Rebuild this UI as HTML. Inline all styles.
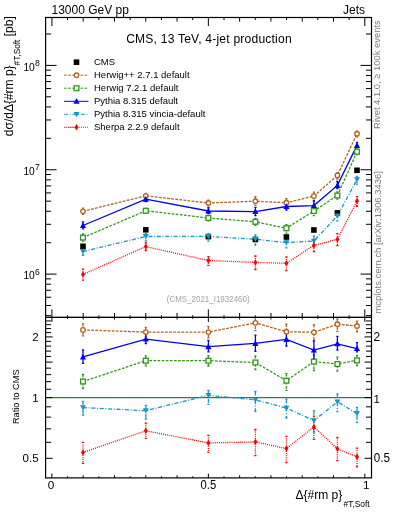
<!DOCTYPE html><html><head><meta charset="utf-8"><style>html,body{margin:0;padding:0;background:#fff;}svg{display:block;will-change:transform;}text{font-family:"Liberation Sans", sans-serif;}</style></head><body>
<svg width="393" height="512" viewBox="0 0 393 512">
<rect width="393" height="512" fill="#fff"/>
<defs><clipPath id="cm"><rect x="45.6" y="17.5" width="325.9" height="299.9"/></clipPath><clipPath id="cr"><rect x="45.6" y="317.4" width="325.9" height="160.5"/></clipPath></defs>
<text x="51.5" y="14" font-size="12">13000 GeV pp</text>
<text x="365" y="14" font-size="12" text-anchor="end">Jets</text>
<text x="208.9" y="42.7" font-size="12.1" text-anchor="middle" textLength="165.5" lengthAdjust="spacing">CMS, 13 TeV, 4-jet production</text>
<line x1="45.6" y1="397.6" x2="371.5" y2="397.6" stroke="#4d7040" stroke-width="1.3"/>
<path d="M45.6 315.63h5.5M371.5 315.63h-5.5M45.6 305.51h5.5M371.5 305.51h-5.5M45.6 297.25h5.5M371.5 297.25h-5.5M45.6 290.26h5.5M371.5 290.26h-5.5M45.6 284.21h5.5M371.5 284.21h-5.5M45.6 278.87h5.5M371.5 278.87h-5.5M45.6 274.1h11M371.5 274.1h-11M45.6 242.69h5.5M371.5 242.69h-5.5M45.6 224.31h5.5M371.5 224.31h-5.5M45.6 211.28h5.5M371.5 211.28h-5.5M45.6 201.16h5.5M371.5 201.16h-5.5M45.6 192.9h5.5M371.5 192.9h-5.5M45.6 185.91h5.5M371.5 185.91h-5.5M45.6 179.86h5.5M371.5 179.86h-5.5M45.6 174.52h5.5M371.5 174.52h-5.5M45.6 169.75h11M371.5 169.75h-11M45.6 138.34h5.5M371.5 138.34h-5.5M45.6 119.96h5.5M371.5 119.96h-5.5M45.6 106.93h5.5M371.5 106.93h-5.5M45.6 96.81h5.5M371.5 96.81h-5.5M45.6 88.55h5.5M371.5 88.55h-5.5M45.6 81.56h5.5M371.5 81.56h-5.5M45.6 75.51h5.5M371.5 75.51h-5.5M45.6 70.17h5.5M371.5 70.17h-5.5M45.6 65.4h11M371.5 65.4h-11M45.6 33.99h5.5M371.5 33.99h-5.5M45.6 458.29h7M371.5 458.29h-7M45.6 442.32h5.5M371.5 442.32h-5.5M45.6 428.83h5.5M371.5 428.83h-5.5M45.6 417.14h5.5M371.5 417.14h-5.5M45.6 406.82h5.5M371.5 406.82h-5.5M45.6 397.6h7M371.5 397.6h-7M45.6 389.26h5.5M371.5 389.26h-5.5M45.6 381.64h5.5M371.5 381.64h-5.5M45.6 374.63h5.5M371.5 374.63h-5.5M45.6 368.14h5.5M371.5 368.14h-5.5M45.6 362.1h7M371.5 362.1h-7M45.6 356.45h5.5M371.5 356.45h-5.5M45.6 351.14h5.5M371.5 351.14h-5.5M45.6 346.14h5.5M371.5 346.14h-5.5M45.6 341.4h5.5M371.5 341.4h-5.5M45.6 336.91h7M371.5 336.91h-7M45.6 332.64h5.5M371.5 332.64h-5.5M45.6 328.57h5.5M371.5 328.57h-5.5M45.6 324.68h5.5M371.5 324.68h-5.5M45.6 320.95h5.5M371.5 320.95h-5.5M51.9 17.5v8.5M51.9 317.4v-8M51.9 317.4v4.5M51.9 477.9v-4.3M67.55 17.5v2.6M67.55 317.4v-2.1M67.55 317.4v1.5M67.55 477.9v-1.6M83.19 17.5v4.1M83.19 317.4v-4.4M83.19 317.4v2.1M83.19 477.9v-2.6M98.84 17.5v2.6M98.84 317.4v-2.1M98.84 317.4v1.5M98.84 477.9v-1.6M114.48 17.5v4.1M114.48 317.4v-4.4M114.48 317.4v2.1M114.48 477.9v-2.6M130.12 17.5v2.6M130.12 317.4v-2.1M130.12 317.4v1.5M130.12 477.9v-1.6M145.77 17.5v4.1M145.77 317.4v-4.4M145.77 317.4v2.1M145.77 477.9v-2.6M161.42 17.5v2.6M161.42 317.4v-2.1M161.42 317.4v1.5M161.42 477.9v-1.6M177.06 17.5v4.1M177.06 317.4v-4.4M177.06 317.4v2.1M177.06 477.9v-2.6M192.71 17.5v2.6M192.71 317.4v-2.1M192.71 317.4v1.5M192.71 477.9v-1.6M208.35 17.5v8.5M208.35 317.4v-8M208.35 317.4v4.5M208.35 477.9v-4.3M224 17.5v2.6M224 317.4v-2.1M224 317.4v1.5M224 477.9v-1.6M239.64 17.5v4.1M239.64 317.4v-4.4M239.64 317.4v2.1M239.64 477.9v-2.6M255.29 17.5v2.6M255.29 317.4v-2.1M255.29 317.4v1.5M255.29 477.9v-1.6M270.93 17.5v4.1M270.93 317.4v-4.4M270.93 317.4v2.1M270.93 477.9v-2.6M286.57 17.5v2.6M286.57 317.4v-2.1M286.57 317.4v1.5M286.57 477.9v-1.6M302.22 17.5v4.1M302.22 317.4v-4.4M302.22 317.4v2.1M302.22 477.9v-2.6M317.87 17.5v2.6M317.87 317.4v-2.1M317.87 317.4v1.5M317.87 477.9v-1.6M333.51 17.5v4.1M333.51 317.4v-4.4M333.51 317.4v2.1M333.51 477.9v-2.6M349.16 17.5v2.6M349.16 317.4v-2.1M349.16 317.4v1.5M349.16 477.9v-1.6M364.8 17.5v8.5M364.8 317.4v-8M364.8 317.4v4.5M364.8 477.9v-4.3" stroke="#000" stroke-width="1" fill="none"/>
<polyline points="83,211.3 145.8,195.8 208.4,203 255.4,201.2 286.4,202.7 313.9,196.1 337.4,175.4 357,133.7" fill="none" stroke="#b5651d" stroke-width="1.3" stroke-dasharray="2.8,1.3" clip-path="url(#cm)"/>
<polyline points="83,237.6 145.8,210.8 208.4,218 255.4,221.8 286.4,228.2 313.9,211 337.4,195.5 357,151.8" fill="none" stroke="#349a1c" stroke-width="1.3" stroke-dasharray="2.7,1.4" clip-path="url(#cm)"/>
<polyline points="83,225.5 145.8,199.2 208.4,211 255.4,211.6 286.4,206.5 313.9,205.6 337.4,185.4 357,145.4" fill="none" stroke="#0000ff" stroke-width="1.3" clip-path="url(#cm)"/>
<polyline points="83,251.5 145.8,236.5 208.4,236.4 255.4,239.2 286.4,242.7 313.9,241.1 337.4,215.8 357,179.6" fill="none" stroke="#1699c4" stroke-width="1.3" stroke-dasharray="4,1.7,1,1.7" clip-path="url(#cm)"/>
<polyline points="83,274.4 145.8,246.6 208.4,260.5 255.4,262.4 286.4,263.3 313.9,245.3 337.4,239.4 357,201" fill="none" stroke="#ff0000" stroke-width="1.3" stroke-dasharray="1,1.1" clip-path="url(#cm)"/>
<g clip-path="url(#cm)" stroke="#b5651d" stroke-width="1.3" fill="none"><line x1="83" y1="208.14" x2="83" y2="214.41" stroke-dasharray="2.8,1.3"/><line x1="81.9" y1="208.14" x2="84.1" y2="208.14"/><line x1="81.9" y1="214.41" x2="84.1" y2="214.41"/></g>
<g clip-path="url(#cm)" stroke="#b5651d" stroke-width="1.3" fill="none"><line x1="145.8" y1="193.37" x2="145.8" y2="198.08" stroke-dasharray="2.8,1.3"/><line x1="144.7" y1="193.37" x2="146.9" y2="193.37"/><line x1="144.7" y1="198.08" x2="146.9" y2="198.08"/></g>
<g clip-path="url(#cm)" stroke="#b5651d" stroke-width="1.3" fill="none"><line x1="208.4" y1="200.05" x2="208.4" y2="205.95" stroke-dasharray="2.8,1.3"/><line x1="207.3" y1="200.05" x2="209.5" y2="200.05"/><line x1="207.3" y1="205.95" x2="209.5" y2="205.95"/></g>
<g clip-path="url(#cm)" stroke="#b5651d" stroke-width="1.3" fill="none"><line x1="255.4" y1="196.65" x2="255.4" y2="205.29" stroke-dasharray="2.8,1.3"/><line x1="254.3" y1="196.65" x2="256.5" y2="196.65"/><line x1="254.3" y1="205.29" x2="256.5" y2="205.29"/></g>
<g clip-path="url(#cm)" stroke="#b5651d" stroke-width="1.3" fill="none"><line x1="286.4" y1="198.77" x2="286.4" y2="206.22" stroke-dasharray="2.8,1.3"/><line x1="285.3" y1="198.77" x2="287.5" y2="198.77"/><line x1="285.3" y1="206.22" x2="287.5" y2="206.22"/></g>
<g clip-path="url(#cm)" stroke="#b5651d" stroke-width="1.3" fill="none"><line x1="313.9" y1="192.22" x2="313.9" y2="200.24" stroke-dasharray="2.8,1.3"/><line x1="312.8" y1="192.22" x2="315" y2="192.22"/><line x1="312.8" y1="200.24" x2="315" y2="200.24"/></g>
<g clip-path="url(#cm)" stroke="#b5651d" stroke-width="1.3" fill="none"><line x1="337.4" y1="172.66" x2="337.4" y2="179.13" stroke-dasharray="2.8,1.3"/><line x1="336.3" y1="172.66" x2="338.5" y2="172.66"/><line x1="336.3" y1="179.13" x2="338.5" y2="179.13"/></g>
<g clip-path="url(#cm)" stroke="#b5651d" stroke-width="1.3" fill="none"><line x1="357" y1="131.22" x2="357" y2="136.75" stroke-dasharray="2.8,1.3"/><line x1="355.9" y1="131.22" x2="358.1" y2="131.22"/><line x1="355.9" y1="136.75" x2="358.1" y2="136.75"/></g>
<g clip-path="url(#cm)" stroke="#349a1c" stroke-width="1.3" fill="none"><line x1="83" y1="233.98" x2="83" y2="241.22" stroke-dasharray="2.7,1.4"/><line x1="81.9" y1="233.98" x2="84.1" y2="233.98"/><line x1="81.9" y1="241.22" x2="84.1" y2="241.22"/></g>
<g clip-path="url(#cm)" stroke="#349a1c" stroke-width="1.3" fill="none"><line x1="145.8" y1="208.32" x2="145.8" y2="213.44" stroke-dasharray="2.7,1.4"/><line x1="144.7" y1="208.32" x2="146.9" y2="208.32"/><line x1="144.7" y1="213.44" x2="146.9" y2="213.44"/></g>
<g clip-path="url(#cm)" stroke="#349a1c" stroke-width="1.3" fill="none"><line x1="208.4" y1="215.36" x2="208.4" y2="220.74" stroke-dasharray="2.7,1.4"/><line x1="207.3" y1="215.36" x2="209.5" y2="215.36"/><line x1="207.3" y1="220.74" x2="209.5" y2="220.74"/></g>
<g clip-path="url(#cm)" stroke="#349a1c" stroke-width="1.3" fill="none"><line x1="255.4" y1="218.38" x2="255.4" y2="225.42" stroke-dasharray="2.7,1.4"/><line x1="254.3" y1="218.38" x2="256.5" y2="218.38"/><line x1="254.3" y1="225.42" x2="256.5" y2="225.42"/></g>
<g clip-path="url(#cm)" stroke="#349a1c" stroke-width="1.3" fill="none"><line x1="286.4" y1="224.58" x2="286.4" y2="233.17" stroke-dasharray="2.7,1.4"/><line x1="285.3" y1="224.58" x2="287.5" y2="224.58"/><line x1="285.3" y1="233.17" x2="287.5" y2="233.17"/></g>
<g clip-path="url(#cm)" stroke="#349a1c" stroke-width="1.3" fill="none"><line x1="313.9" y1="207.32" x2="313.9" y2="215.61" stroke-dasharray="2.7,1.4"/><line x1="312.8" y1="207.32" x2="315" y2="207.32"/><line x1="312.8" y1="215.61" x2="315" y2="215.61"/></g>
<g clip-path="url(#cm)" stroke="#349a1c" stroke-width="1.3" fill="none"><line x1="337.4" y1="191.98" x2="337.4" y2="199.18" stroke-dasharray="2.7,1.4"/><line x1="336.3" y1="191.98" x2="338.5" y2="191.98"/><line x1="336.3" y1="199.18" x2="338.5" y2="199.18"/></g>
<g clip-path="url(#cm)" stroke="#349a1c" stroke-width="1.3" fill="none"><line x1="357" y1="149.21" x2="357" y2="154.54" stroke-dasharray="2.7,1.4"/><line x1="355.9" y1="149.21" x2="358.1" y2="149.21"/><line x1="355.9" y1="154.54" x2="358.1" y2="154.54"/></g>
<g clip-path="url(#cm)" stroke="#0000ff" stroke-width="1.3" fill="none"><line x1="83" y1="221.88" x2="83" y2="228.81"/><line x1="81.9" y1="221.88" x2="84.1" y2="221.88"/><line x1="81.9" y1="228.81" x2="84.1" y2="228.81"/></g>
<g clip-path="url(#cm)" stroke="#0000ff" stroke-width="1.3" fill="none"><line x1="145.8" y1="196.25" x2="145.8" y2="201.48"/><line x1="144.7" y1="196.25" x2="146.9" y2="196.25"/><line x1="144.7" y1="201.48" x2="146.9" y2="201.48"/></g>
<g clip-path="url(#cm)" stroke="#0000ff" stroke-width="1.3" fill="none"><line x1="208.4" y1="207.74" x2="208.4" y2="213.64"/><line x1="207.3" y1="207.74" x2="209.5" y2="207.74"/><line x1="207.3" y1="213.64" x2="209.5" y2="213.64"/></g>
<g clip-path="url(#cm)" stroke="#0000ff" stroke-width="1.3" fill="none"><line x1="255.4" y1="207.36" x2="255.4" y2="215.69"/><line x1="254.3" y1="207.36" x2="256.5" y2="207.36"/><line x1="254.3" y1="215.69" x2="256.5" y2="215.69"/></g>
<g clip-path="url(#cm)" stroke="#0000ff" stroke-width="1.3" fill="none"><line x1="286.4" y1="202.36" x2="286.4" y2="210.02"/><line x1="285.3" y1="202.36" x2="287.5" y2="202.36"/><line x1="285.3" y1="210.02" x2="287.5" y2="210.02"/></g>
<g clip-path="url(#cm)" stroke="#0000ff" stroke-width="1.3" fill="none"><line x1="313.9" y1="200.99" x2="313.9" y2="210"/><line x1="312.8" y1="200.99" x2="315" y2="200.99"/><line x1="312.8" y1="210" x2="315" y2="210"/></g>
<g clip-path="url(#cm)" stroke="#0000ff" stroke-width="1.3" fill="none"><line x1="337.4" y1="181.52" x2="337.4" y2="188.66"/><line x1="336.3" y1="181.52" x2="338.5" y2="181.52"/><line x1="336.3" y1="188.66" x2="338.5" y2="188.66"/></g>
<g clip-path="url(#cm)" stroke="#0000ff" stroke-width="1.3" fill="none"><line x1="357" y1="142.29" x2="357" y2="147.06"/><line x1="355.9" y1="142.29" x2="358.1" y2="142.29"/><line x1="355.9" y1="147.06" x2="358.1" y2="147.06"/></g>
<g clip-path="url(#cm)" stroke="#1699c4" stroke-width="1.3" fill="none"><line x1="83" y1="248.24" x2="83" y2="255.33" stroke-dasharray="4,1.7,1,1.7"/><line x1="81.9" y1="248.24" x2="84.1" y2="248.24"/><line x1="81.9" y1="255.33" x2="84.1" y2="255.33"/></g>
<g clip-path="url(#cm)" stroke="#1699c4" stroke-width="1.3" fill="none"><line x1="145.8" y1="233.76" x2="145.8" y2="240.8" stroke-dasharray="4,1.7,1,1.7"/><line x1="144.7" y1="233.76" x2="146.9" y2="233.76"/><line x1="144.7" y1="240.8" x2="146.9" y2="240.8"/></g>
<g clip-path="url(#cm)" stroke="#1699c4" stroke-width="1.3" fill="none"><line x1="208.4" y1="233.81" x2="208.4" y2="241.06" stroke-dasharray="4,1.7,1,1.7"/><line x1="207.3" y1="233.81" x2="209.5" y2="233.81"/><line x1="207.3" y1="241.06" x2="209.5" y2="241.06"/></g>
<g clip-path="url(#cm)" stroke="#1699c4" stroke-width="1.3" fill="none"><line x1="255.4" y1="234.9" x2="255.4" y2="245.15" stroke-dasharray="4,1.7,1,1.7"/><line x1="254.3" y1="234.9" x2="256.5" y2="234.9"/><line x1="254.3" y1="245.15" x2="256.5" y2="245.15"/></g>
<g clip-path="url(#cm)" stroke="#1699c4" stroke-width="1.3" fill="none"><line x1="286.4" y1="238.09" x2="286.4" y2="247.82" stroke-dasharray="4,1.7,1,1.7"/><line x1="285.3" y1="238.09" x2="287.5" y2="238.09"/><line x1="285.3" y1="247.82" x2="287.5" y2="247.82"/></g>
<g clip-path="url(#cm)" stroke="#1699c4" stroke-width="1.3" fill="none"><line x1="313.9" y1="236.03" x2="313.9" y2="247.1" stroke-dasharray="4,1.7,1,1.7"/><line x1="312.8" y1="236.03" x2="315" y2="236.03"/><line x1="312.8" y1="247.1" x2="315" y2="247.1"/></g>
<g clip-path="url(#cm)" stroke="#1699c4" stroke-width="1.3" fill="none"><line x1="337.4" y1="211.66" x2="337.4" y2="220.87" stroke-dasharray="4,1.7,1,1.7"/><line x1="336.3" y1="211.66" x2="338.5" y2="211.66"/><line x1="336.3" y1="220.87" x2="338.5" y2="220.87"/></g>
<g clip-path="url(#cm)" stroke="#1699c4" stroke-width="1.3" fill="none"><line x1="357" y1="176.39" x2="357" y2="184.21" stroke-dasharray="4,1.7,1,1.7"/><line x1="355.9" y1="176.39" x2="358.1" y2="176.39"/><line x1="355.9" y1="184.21" x2="358.1" y2="184.21"/></g>
<g clip-path="url(#cm)" stroke="#ff0000" stroke-width="1.3" fill="none"><line x1="83" y1="269.17" x2="83" y2="280.04" stroke-dasharray="1,1.1"/><line x1="81.9" y1="269.17" x2="84.1" y2="269.17"/><line x1="81.9" y1="280.04" x2="84.1" y2="280.04"/></g>
<g clip-path="url(#cm)" stroke="#ff0000" stroke-width="1.3" fill="none"><line x1="145.8" y1="242.67" x2="145.8" y2="250.53" stroke-dasharray="1,1.1"/><line x1="144.7" y1="242.67" x2="146.9" y2="242.67"/><line x1="144.7" y1="250.53" x2="146.9" y2="250.53"/></g>
<g clip-path="url(#cm)" stroke="#ff0000" stroke-width="1.3" fill="none"><line x1="208.4" y1="256.57" x2="208.4" y2="265.42" stroke-dasharray="1,1.1"/><line x1="207.3" y1="256.57" x2="209.5" y2="256.57"/><line x1="207.3" y1="265.42" x2="209.5" y2="265.42"/></g>
<g clip-path="url(#cm)" stroke="#ff0000" stroke-width="1.3" fill="none"><line x1="255.4" y1="255.98" x2="255.4" y2="269.49" stroke-dasharray="1,1.1"/><line x1="254.3" y1="255.98" x2="256.5" y2="255.98"/><line x1="254.3" y1="269.49" x2="256.5" y2="269.49"/></g>
<g clip-path="url(#cm)" stroke="#ff0000" stroke-width="1.3" fill="none"><line x1="286.4" y1="256.93" x2="286.4" y2="270.55" stroke-dasharray="1,1.1"/><line x1="285.3" y1="256.93" x2="287.5" y2="256.93"/><line x1="285.3" y1="270.55" x2="287.5" y2="270.55"/></g>
<g clip-path="url(#cm)" stroke="#ff0000" stroke-width="1.3" fill="none"><line x1="313.9" y1="239.76" x2="313.9" y2="251.72" stroke-dasharray="1,1.1"/><line x1="312.8" y1="239.76" x2="315" y2="239.76"/><line x1="312.8" y1="251.72" x2="315" y2="251.72"/></g>
<g clip-path="url(#cm)" stroke="#ff0000" stroke-width="1.3" fill="none"><line x1="337.4" y1="233.55" x2="337.4" y2="245.56" stroke-dasharray="1,1.1"/><line x1="336.3" y1="233.55" x2="338.5" y2="233.55"/><line x1="336.3" y1="245.56" x2="338.5" y2="245.56"/></g>
<g clip-path="url(#cm)" stroke="#ff0000" stroke-width="1.3" fill="none"><line x1="357" y1="196.55" x2="357" y2="206.23" stroke-dasharray="1,1.1"/><line x1="355.9" y1="196.55" x2="358.1" y2="196.55"/><line x1="355.9" y1="206.23" x2="358.1" y2="206.23"/></g>
<rect x="80.2" y="243.5" width="5.6" height="5.6" fill="#000"/>
<rect x="143" y="227" width="5.6" height="5.6" fill="#000"/>
<rect x="205.6" y="233.8" width="5.6" height="5.6" fill="#000"/>
<rect x="252.6" y="236.7" width="5.6" height="5.6" fill="#000"/>
<rect x="283.6" y="234.2" width="5.6" height="5.6" fill="#000"/>
<rect x="311.1" y="227.2" width="5.6" height="5.6" fill="#000"/>
<rect x="334.6" y="210.1" width="5.6" height="5.6" fill="#000"/>
<rect x="354.2" y="167.5" width="5.6" height="5.6" fill="#000"/>
<circle cx="83" cy="211.3" r="2.25" fill="#fff" stroke="#b5651d" stroke-width="1.35"/>
<circle cx="145.8" cy="195.8" r="2.25" fill="#fff" stroke="#b5651d" stroke-width="1.35"/>
<circle cx="208.4" cy="203" r="2.25" fill="#fff" stroke="#b5651d" stroke-width="1.35"/>
<circle cx="255.4" cy="201.2" r="2.25" fill="#fff" stroke="#b5651d" stroke-width="1.35"/>
<circle cx="286.4" cy="202.7" r="2.25" fill="#fff" stroke="#b5651d" stroke-width="1.35"/>
<circle cx="313.9" cy="196.1" r="2.25" fill="#fff" stroke="#b5651d" stroke-width="1.35"/>
<circle cx="337.4" cy="175.4" r="2.25" fill="#fff" stroke="#b5651d" stroke-width="1.35"/>
<circle cx="357" cy="133.7" r="2.25" fill="#fff" stroke="#b5651d" stroke-width="1.35"/>
<rect x="80.6" y="235.2" width="4.8" height="4.8" fill="#fff" stroke="#349a1c" stroke-width="1.35"/>
<rect x="143.4" y="208.4" width="4.8" height="4.8" fill="#fff" stroke="#349a1c" stroke-width="1.35"/>
<rect x="206" y="215.6" width="4.8" height="4.8" fill="#fff" stroke="#349a1c" stroke-width="1.35"/>
<rect x="253" y="219.4" width="4.8" height="4.8" fill="#fff" stroke="#349a1c" stroke-width="1.35"/>
<rect x="284" y="225.8" width="4.8" height="4.8" fill="#fff" stroke="#349a1c" stroke-width="1.35"/>
<rect x="311.5" y="208.6" width="4.8" height="4.8" fill="#fff" stroke="#349a1c" stroke-width="1.35"/>
<rect x="335" y="193.1" width="4.8" height="4.8" fill="#fff" stroke="#349a1c" stroke-width="1.35"/>
<rect x="354.6" y="149.4" width="4.8" height="4.8" fill="#fff" stroke="#349a1c" stroke-width="1.35"/>
<path d="M83 222.3 L86.1 228 L79.9 228Z" fill="#0000ff"/>
<path d="M145.8 196 L148.9 201.7 L142.7 201.7Z" fill="#0000ff"/>
<path d="M208.4 207.8 L211.5 213.5 L205.3 213.5Z" fill="#0000ff"/>
<path d="M255.4 208.4 L258.5 214.1 L252.3 214.1Z" fill="#0000ff"/>
<path d="M286.4 203.3 L289.5 209 L283.3 209Z" fill="#0000ff"/>
<path d="M313.9 202.4 L317 208.1 L310.8 208.1Z" fill="#0000ff"/>
<path d="M337.4 182.2 L340.5 187.9 L334.3 187.9Z" fill="#0000ff"/>
<path d="M357 142.2 L360.1 147.9 L353.9 147.9Z" fill="#0000ff"/>
<path d="M83 254.4 L86 249.1 L80 249.1Z" fill="#1699c4"/>
<path d="M145.8 239.4 L148.8 234.1 L142.8 234.1Z" fill="#1699c4"/>
<path d="M208.4 239.3 L211.4 234 L205.4 234Z" fill="#1699c4"/>
<path d="M255.4 242.1 L258.4 236.8 L252.4 236.8Z" fill="#1699c4"/>
<path d="M286.4 245.6 L289.4 240.3 L283.4 240.3Z" fill="#1699c4"/>
<path d="M313.9 244 L316.9 238.7 L310.9 238.7Z" fill="#1699c4"/>
<path d="M337.4 218.7 L340.4 213.4 L334.4 213.4Z" fill="#1699c4"/>
<path d="M357 182.5 L360 177.2 L354 177.2Z" fill="#1699c4"/>
<path d="M83 271.2 L85 274.4 L83 277.6 L81 274.4Z" fill="#ff0000"/>
<path d="M145.8 243.4 L147.8 246.6 L145.8 249.8 L143.8 246.6Z" fill="#ff0000"/>
<path d="M208.4 257.3 L210.4 260.5 L208.4 263.7 L206.4 260.5Z" fill="#ff0000"/>
<path d="M255.4 259.2 L257.4 262.4 L255.4 265.6 L253.4 262.4Z" fill="#ff0000"/>
<path d="M286.4 260.1 L288.4 263.3 L286.4 266.5 L284.4 263.3Z" fill="#ff0000"/>
<path d="M313.9 242.1 L315.9 245.3 L313.9 248.5 L311.9 245.3Z" fill="#ff0000"/>
<path d="M337.4 236.2 L339.4 239.4 L337.4 242.6 L335.4 239.4Z" fill="#ff0000"/>
<path d="M357 197.8 L359 201 L357 204.2 L355 201Z" fill="#ff0000"/>
<polyline points="83,329.9 145.8,332.1 208.4,332.1 255.4,322.8 286.4,331.7 313.9,332.3 337.4,324.2 357,326" fill="none" stroke="#b5651d" stroke-width="1.3" stroke-dasharray="2.8,1.3" clip-path="url(#cr)"/>
<polyline points="83,381.5 145.8,360.7 208.4,360.7 255.4,362.5 286.4,380.7 313.9,361.6 337.4,364 357,360.4" fill="none" stroke="#349a1c" stroke-width="1.3" stroke-dasharray="2.7,1.4" clip-path="url(#cr)"/>
<polyline points="83,356.9 145.8,339.1 208.4,346.7 255.4,343.4 286.4,339.4 313.9,350.1 337.4,343.8 357,348.6" fill="none" stroke="#0000ff" stroke-width="1.3" clip-path="url(#cr)"/>
<polyline points="83,407.6 145.8,410.7 208.4,395.4 255.4,399.8 286.4,408.1 313.9,420.6 337.4,401.9 357,413.5" fill="none" stroke="#1699c4" stroke-width="1.3" stroke-dasharray="4,1.7,1,1.7" clip-path="url(#cr)"/>
<polyline points="83,452.4 145.8,430.8 208.4,442.9 255.4,441.9 286.4,448.6 313.9,426.9 337.4,448.8 357,456.8" fill="none" stroke="#ff0000" stroke-width="1.3" stroke-dasharray="1,1.1" clip-path="url(#cr)"/>
<g clip-path="url(#cr)" stroke="#b5651d" stroke-width="1.3" fill="none"><line x1="83" y1="323.8" x2="83" y2="335.9" stroke-dasharray="2.8,1.3"/><line x1="81.9" y1="323.8" x2="84.1" y2="323.8"/><line x1="81.9" y1="335.9" x2="84.1" y2="335.9"/></g>
<g clip-path="url(#cr)" stroke="#b5651d" stroke-width="1.3" fill="none"><line x1="145.8" y1="327.4" x2="145.8" y2="336.5" stroke-dasharray="2.8,1.3"/><line x1="144.7" y1="327.4" x2="146.9" y2="327.4"/><line x1="144.7" y1="336.5" x2="146.9" y2="336.5"/></g>
<g clip-path="url(#cr)" stroke="#b5651d" stroke-width="1.3" fill="none"><line x1="208.4" y1="326.4" x2="208.4" y2="337.8" stroke-dasharray="2.8,1.3"/><line x1="207.3" y1="326.4" x2="209.5" y2="326.4"/><line x1="207.3" y1="337.8" x2="209.5" y2="337.8"/></g>
<g clip-path="url(#cr)" stroke="#b5651d" stroke-width="1.3" fill="none"><line x1="255.4" y1="314" x2="255.4" y2="330.7" stroke-dasharray="2.8,1.3"/><line x1="254.3" y1="314" x2="256.5" y2="314"/><line x1="254.3" y1="330.7" x2="256.5" y2="330.7"/></g>
<g clip-path="url(#cr)" stroke="#b5651d" stroke-width="1.3" fill="none"><line x1="286.4" y1="324.1" x2="286.4" y2="338.5" stroke-dasharray="2.8,1.3"/><line x1="285.3" y1="324.1" x2="287.5" y2="324.1"/><line x1="285.3" y1="338.5" x2="287.5" y2="338.5"/></g>
<g clip-path="url(#cr)" stroke="#b5651d" stroke-width="1.3" fill="none"><line x1="313.9" y1="324.8" x2="313.9" y2="340.3" stroke-dasharray="2.8,1.3"/><line x1="312.8" y1="324.8" x2="315" y2="324.8"/><line x1="312.8" y1="340.3" x2="315" y2="340.3"/></g>
<g clip-path="url(#cr)" stroke="#b5651d" stroke-width="1.3" fill="none"><line x1="337.4" y1="318.9" x2="337.4" y2="331.4" stroke-dasharray="2.8,1.3"/><line x1="336.3" y1="318.9" x2="338.5" y2="318.9"/><line x1="336.3" y1="331.4" x2="338.5" y2="331.4"/></g>
<g clip-path="url(#cr)" stroke="#b5651d" stroke-width="1.3" fill="none"><line x1="357" y1="321.2" x2="357" y2="331.9" stroke-dasharray="2.8,1.3"/><line x1="355.9" y1="321.2" x2="358.1" y2="321.2"/><line x1="355.9" y1="331.9" x2="358.1" y2="331.9"/></g>
<g clip-path="url(#cr)" stroke="#349a1c" stroke-width="1.3" fill="none"><line x1="83" y1="374.5" x2="83" y2="388.5" stroke-dasharray="2.7,1.4"/><line x1="81.9" y1="374.5" x2="84.1" y2="374.5"/><line x1="81.9" y1="388.5" x2="84.1" y2="388.5"/></g>
<g clip-path="url(#cr)" stroke="#349a1c" stroke-width="1.3" fill="none"><line x1="145.8" y1="355.9" x2="145.8" y2="365.8" stroke-dasharray="2.7,1.4"/><line x1="144.7" y1="355.9" x2="146.9" y2="355.9"/><line x1="144.7" y1="365.8" x2="146.9" y2="365.8"/></g>
<g clip-path="url(#cr)" stroke="#349a1c" stroke-width="1.3" fill="none"><line x1="208.4" y1="355.6" x2="208.4" y2="366" stroke-dasharray="2.7,1.4"/><line x1="207.3" y1="355.6" x2="209.5" y2="355.6"/><line x1="207.3" y1="366" x2="209.5" y2="366"/></g>
<g clip-path="url(#cr)" stroke="#349a1c" stroke-width="1.3" fill="none"><line x1="255.4" y1="355.9" x2="255.4" y2="369.5" stroke-dasharray="2.7,1.4"/><line x1="254.3" y1="355.9" x2="256.5" y2="355.9"/><line x1="254.3" y1="369.5" x2="256.5" y2="369.5"/></g>
<g clip-path="url(#cr)" stroke="#349a1c" stroke-width="1.3" fill="none"><line x1="286.4" y1="373.7" x2="286.4" y2="390.3" stroke-dasharray="2.7,1.4"/><line x1="285.3" y1="373.7" x2="287.5" y2="373.7"/><line x1="285.3" y1="390.3" x2="287.5" y2="390.3"/></g>
<g clip-path="url(#cr)" stroke="#349a1c" stroke-width="1.3" fill="none"><line x1="313.9" y1="354.5" x2="313.9" y2="370.5" stroke-dasharray="2.7,1.4"/><line x1="312.8" y1="354.5" x2="315" y2="354.5"/><line x1="312.8" y1="370.5" x2="315" y2="370.5"/></g>
<g clip-path="url(#cr)" stroke="#349a1c" stroke-width="1.3" fill="none"><line x1="337.4" y1="357.2" x2="337.4" y2="371.1" stroke-dasharray="2.7,1.4"/><line x1="336.3" y1="357.2" x2="338.5" y2="357.2"/><line x1="336.3" y1="371.1" x2="338.5" y2="371.1"/></g>
<g clip-path="url(#cr)" stroke="#349a1c" stroke-width="1.3" fill="none"><line x1="357" y1="355.4" x2="357" y2="365.7" stroke-dasharray="2.7,1.4"/><line x1="355.9" y1="355.4" x2="358.1" y2="355.4"/><line x1="355.9" y1="365.7" x2="358.1" y2="365.7"/></g>
<g clip-path="url(#cr)" stroke="#0000ff" stroke-width="1.3" fill="none"><line x1="83" y1="349.9" x2="83" y2="363.3"/><line x1="81.9" y1="349.9" x2="84.1" y2="349.9"/><line x1="81.9" y1="363.3" x2="84.1" y2="363.3"/></g>
<g clip-path="url(#cr)" stroke="#0000ff" stroke-width="1.3" fill="none"><line x1="145.8" y1="333.4" x2="145.8" y2="343.5"/><line x1="144.7" y1="333.4" x2="146.9" y2="333.4"/><line x1="144.7" y1="343.5" x2="146.9" y2="343.5"/></g>
<g clip-path="url(#cr)" stroke="#0000ff" stroke-width="1.3" fill="none"><line x1="208.4" y1="340.4" x2="208.4" y2="351.8"/><line x1="207.3" y1="340.4" x2="209.5" y2="340.4"/><line x1="207.3" y1="351.8" x2="209.5" y2="351.8"/></g>
<g clip-path="url(#cr)" stroke="#0000ff" stroke-width="1.3" fill="none"><line x1="255.4" y1="335.2" x2="255.4" y2="351.3"/><line x1="254.3" y1="335.2" x2="256.5" y2="335.2"/><line x1="254.3" y1="351.3" x2="256.5" y2="351.3"/></g>
<g clip-path="url(#cr)" stroke="#0000ff" stroke-width="1.3" fill="none"><line x1="286.4" y1="331.4" x2="286.4" y2="346.2"/><line x1="285.3" y1="331.4" x2="287.5" y2="331.4"/><line x1="285.3" y1="346.2" x2="287.5" y2="346.2"/></g>
<g clip-path="url(#cr)" stroke="#0000ff" stroke-width="1.3" fill="none"><line x1="313.9" y1="341.2" x2="313.9" y2="358.6"/><line x1="312.8" y1="341.2" x2="315" y2="341.2"/><line x1="312.8" y1="358.6" x2="315" y2="358.6"/></g>
<g clip-path="url(#cr)" stroke="#0000ff" stroke-width="1.3" fill="none"><line x1="337.4" y1="336.3" x2="337.4" y2="350.1"/><line x1="336.3" y1="336.3" x2="338.5" y2="336.3"/><line x1="336.3" y1="350.1" x2="338.5" y2="350.1"/></g>
<g clip-path="url(#cr)" stroke="#0000ff" stroke-width="1.3" fill="none"><line x1="357" y1="342.6" x2="357" y2="351.8"/><line x1="355.9" y1="342.6" x2="358.1" y2="342.6"/><line x1="355.9" y1="351.8" x2="358.1" y2="351.8"/></g>
<g clip-path="url(#cr)" stroke="#1699c4" stroke-width="1.3" fill="none"><line x1="83" y1="401.3" x2="83" y2="415" stroke-dasharray="4,1.7,1,1.7"/><line x1="81.9" y1="401.3" x2="84.1" y2="401.3"/><line x1="81.9" y1="415" x2="84.1" y2="415"/></g>
<g clip-path="url(#cr)" stroke="#1699c4" stroke-width="1.3" fill="none"><line x1="145.8" y1="405.4" x2="145.8" y2="419" stroke-dasharray="4,1.7,1,1.7"/><line x1="144.7" y1="405.4" x2="146.9" y2="405.4"/><line x1="144.7" y1="419" x2="146.9" y2="419"/></g>
<g clip-path="url(#cr)" stroke="#1699c4" stroke-width="1.3" fill="none"><line x1="208.4" y1="390.4" x2="208.4" y2="404.4" stroke-dasharray="4,1.7,1,1.7"/><line x1="207.3" y1="390.4" x2="209.5" y2="390.4"/><line x1="207.3" y1="404.4" x2="209.5" y2="404.4"/></g>
<g clip-path="url(#cr)" stroke="#1699c4" stroke-width="1.3" fill="none"><line x1="255.4" y1="391.5" x2="255.4" y2="411.3" stroke-dasharray="4,1.7,1,1.7"/><line x1="254.3" y1="391.5" x2="256.5" y2="391.5"/><line x1="254.3" y1="411.3" x2="256.5" y2="411.3"/></g>
<g clip-path="url(#cr)" stroke="#1699c4" stroke-width="1.3" fill="none"><line x1="286.4" y1="399.2" x2="286.4" y2="418" stroke-dasharray="4,1.7,1,1.7"/><line x1="285.3" y1="399.2" x2="287.5" y2="399.2"/><line x1="285.3" y1="418" x2="287.5" y2="418"/></g>
<g clip-path="url(#cr)" stroke="#1699c4" stroke-width="1.3" fill="none"><line x1="313.9" y1="410.8" x2="313.9" y2="432.2" stroke-dasharray="4,1.7,1,1.7"/><line x1="312.8" y1="410.8" x2="315" y2="410.8"/><line x1="312.8" y1="432.2" x2="315" y2="432.2"/></g>
<g clip-path="url(#cr)" stroke="#1699c4" stroke-width="1.3" fill="none"><line x1="337.4" y1="393.9" x2="337.4" y2="411.7" stroke-dasharray="4,1.7,1,1.7"/><line x1="336.3" y1="393.9" x2="338.5" y2="393.9"/><line x1="336.3" y1="411.7" x2="338.5" y2="411.7"/></g>
<g clip-path="url(#cr)" stroke="#1699c4" stroke-width="1.3" fill="none"><line x1="357" y1="407.3" x2="357" y2="422.4" stroke-dasharray="4,1.7,1,1.7"/><line x1="355.9" y1="407.3" x2="358.1" y2="407.3"/><line x1="355.9" y1="422.4" x2="358.1" y2="422.4"/></g>
<g clip-path="url(#cr)" stroke="#ff0000" stroke-width="1.3" fill="none"><line x1="83" y1="442.3" x2="83" y2="463.3" stroke-dasharray="1,1.1"/><line x1="81.9" y1="442.3" x2="84.1" y2="442.3"/><line x1="81.9" y1="463.3" x2="84.1" y2="463.3"/></g>
<g clip-path="url(#cr)" stroke="#ff0000" stroke-width="1.3" fill="none"><line x1="145.8" y1="423.2" x2="145.8" y2="438.4" stroke-dasharray="1,1.1"/><line x1="144.7" y1="423.2" x2="146.9" y2="423.2"/><line x1="144.7" y1="438.4" x2="146.9" y2="438.4"/></g>
<g clip-path="url(#cr)" stroke="#ff0000" stroke-width="1.3" fill="none"><line x1="208.4" y1="435.3" x2="208.4" y2="452.4" stroke-dasharray="1,1.1"/><line x1="207.3" y1="435.3" x2="209.5" y2="435.3"/><line x1="207.3" y1="452.4" x2="209.5" y2="452.4"/></g>
<g clip-path="url(#cr)" stroke="#ff0000" stroke-width="1.3" fill="none"><line x1="255.4" y1="429.5" x2="255.4" y2="455.6" stroke-dasharray="1,1.1"/><line x1="254.3" y1="429.5" x2="256.5" y2="429.5"/><line x1="254.3" y1="455.6" x2="256.5" y2="455.6"/></g>
<g clip-path="url(#cr)" stroke="#ff0000" stroke-width="1.3" fill="none"><line x1="286.4" y1="436.3" x2="286.4" y2="462.6" stroke-dasharray="1,1.1"/><line x1="285.3" y1="436.3" x2="287.5" y2="436.3"/><line x1="285.3" y1="462.6" x2="287.5" y2="462.6"/></g>
<g clip-path="url(#cr)" stroke="#ff0000" stroke-width="1.3" fill="none"><line x1="313.9" y1="416.2" x2="313.9" y2="439.3" stroke-dasharray="1,1.1"/><line x1="312.8" y1="416.2" x2="315" y2="416.2"/><line x1="312.8" y1="439.3" x2="315" y2="439.3"/></g>
<g clip-path="url(#cr)" stroke="#ff0000" stroke-width="1.3" fill="none"><line x1="337.4" y1="437.5" x2="337.4" y2="460.7" stroke-dasharray="1,1.1"/><line x1="336.3" y1="437.5" x2="338.5" y2="437.5"/><line x1="336.3" y1="460.7" x2="338.5" y2="460.7"/></g>
<g clip-path="url(#cr)" stroke="#ff0000" stroke-width="1.3" fill="none"><line x1="357" y1="448.2" x2="357" y2="466.9" stroke-dasharray="1,1.1"/><line x1="355.9" y1="448.2" x2="358.1" y2="448.2"/><line x1="355.9" y1="466.9" x2="358.1" y2="466.9"/></g>
<g clip-path="url(#cr)"><circle cx="83" cy="329.9" r="2.25" fill="#fff" stroke="#b5651d" stroke-width="1.35"/></g>
<g clip-path="url(#cr)"><circle cx="145.8" cy="332.1" r="2.25" fill="#fff" stroke="#b5651d" stroke-width="1.35"/></g>
<g clip-path="url(#cr)"><circle cx="208.4" cy="332.1" r="2.25" fill="#fff" stroke="#b5651d" stroke-width="1.35"/></g>
<g clip-path="url(#cr)"><circle cx="255.4" cy="322.8" r="2.25" fill="#fff" stroke="#b5651d" stroke-width="1.35"/></g>
<g clip-path="url(#cr)"><circle cx="286.4" cy="331.7" r="2.25" fill="#fff" stroke="#b5651d" stroke-width="1.35"/></g>
<g clip-path="url(#cr)"><circle cx="313.9" cy="332.3" r="2.25" fill="#fff" stroke="#b5651d" stroke-width="1.35"/></g>
<g clip-path="url(#cr)"><circle cx="337.4" cy="324.2" r="2.25" fill="#fff" stroke="#b5651d" stroke-width="1.35"/></g>
<g clip-path="url(#cr)"><circle cx="357" cy="326" r="2.25" fill="#fff" stroke="#b5651d" stroke-width="1.35"/></g>
<g clip-path="url(#cr)"><rect x="80.6" y="379.1" width="4.8" height="4.8" fill="#fff" stroke="#349a1c" stroke-width="1.35"/></g>
<g clip-path="url(#cr)"><rect x="143.4" y="358.3" width="4.8" height="4.8" fill="#fff" stroke="#349a1c" stroke-width="1.35"/></g>
<g clip-path="url(#cr)"><rect x="206" y="358.3" width="4.8" height="4.8" fill="#fff" stroke="#349a1c" stroke-width="1.35"/></g>
<g clip-path="url(#cr)"><rect x="253" y="360.1" width="4.8" height="4.8" fill="#fff" stroke="#349a1c" stroke-width="1.35"/></g>
<g clip-path="url(#cr)"><rect x="284" y="378.3" width="4.8" height="4.8" fill="#fff" stroke="#349a1c" stroke-width="1.35"/></g>
<g clip-path="url(#cr)"><rect x="311.5" y="359.2" width="4.8" height="4.8" fill="#fff" stroke="#349a1c" stroke-width="1.35"/></g>
<g clip-path="url(#cr)"><rect x="335" y="361.6" width="4.8" height="4.8" fill="#fff" stroke="#349a1c" stroke-width="1.35"/></g>
<g clip-path="url(#cr)"><rect x="354.6" y="358" width="4.8" height="4.8" fill="#fff" stroke="#349a1c" stroke-width="1.35"/></g>
<g clip-path="url(#cr)"><path d="M83 353.7 L86.1 359.4 L79.9 359.4Z" fill="#0000ff"/></g>
<g clip-path="url(#cr)"><path d="M145.8 335.9 L148.9 341.6 L142.7 341.6Z" fill="#0000ff"/></g>
<g clip-path="url(#cr)"><path d="M208.4 343.5 L211.5 349.2 L205.3 349.2Z" fill="#0000ff"/></g>
<g clip-path="url(#cr)"><path d="M255.4 340.2 L258.5 345.9 L252.3 345.9Z" fill="#0000ff"/></g>
<g clip-path="url(#cr)"><path d="M286.4 336.2 L289.5 341.9 L283.3 341.9Z" fill="#0000ff"/></g>
<g clip-path="url(#cr)"><path d="M313.9 346.9 L317 352.6 L310.8 352.6Z" fill="#0000ff"/></g>
<g clip-path="url(#cr)"><path d="M337.4 340.6 L340.5 346.3 L334.3 346.3Z" fill="#0000ff"/></g>
<g clip-path="url(#cr)"><path d="M357 345.4 L360.1 351.1 L353.9 351.1Z" fill="#0000ff"/></g>
<g clip-path="url(#cr)"><path d="M83 410.5 L86 405.2 L80 405.2Z" fill="#1699c4"/></g>
<g clip-path="url(#cr)"><path d="M145.8 413.6 L148.8 408.3 L142.8 408.3Z" fill="#1699c4"/></g>
<g clip-path="url(#cr)"><path d="M208.4 398.3 L211.4 393 L205.4 393Z" fill="#1699c4"/></g>
<g clip-path="url(#cr)"><path d="M255.4 402.7 L258.4 397.4 L252.4 397.4Z" fill="#1699c4"/></g>
<g clip-path="url(#cr)"><path d="M286.4 411 L289.4 405.7 L283.4 405.7Z" fill="#1699c4"/></g>
<g clip-path="url(#cr)"><path d="M313.9 423.5 L316.9 418.2 L310.9 418.2Z" fill="#1699c4"/></g>
<g clip-path="url(#cr)"><path d="M337.4 404.8 L340.4 399.5 L334.4 399.5Z" fill="#1699c4"/></g>
<g clip-path="url(#cr)"><path d="M357 416.4 L360 411.1 L354 411.1Z" fill="#1699c4"/></g>
<g clip-path="url(#cr)"><path d="M83 449.2 L85 452.4 L83 455.6 L81 452.4Z" fill="#ff0000"/></g>
<g clip-path="url(#cr)"><path d="M145.8 427.6 L147.8 430.8 L145.8 434 L143.8 430.8Z" fill="#ff0000"/></g>
<g clip-path="url(#cr)"><path d="M208.4 439.7 L210.4 442.9 L208.4 446.1 L206.4 442.9Z" fill="#ff0000"/></g>
<g clip-path="url(#cr)"><path d="M255.4 438.7 L257.4 441.9 L255.4 445.1 L253.4 441.9Z" fill="#ff0000"/></g>
<g clip-path="url(#cr)"><path d="M286.4 445.4 L288.4 448.6 L286.4 451.8 L284.4 448.6Z" fill="#ff0000"/></g>
<g clip-path="url(#cr)"><path d="M313.9 423.7 L315.9 426.9 L313.9 430.1 L311.9 426.9Z" fill="#ff0000"/></g>
<g clip-path="url(#cr)"><path d="M337.4 445.6 L339.4 448.8 L337.4 452 L335.4 448.8Z" fill="#ff0000"/></g>
<g clip-path="url(#cr)"><path d="M357 453.6 L359 456.8 L357 460 L355 456.8Z" fill="#ff0000"/></g>
<rect x="45.6" y="17.5" width="325.9" height="299.9" fill="none" stroke="#000" stroke-width="1.2"/>
<rect x="45.6" y="317.4" width="325.9" height="160.5" fill="none" stroke="#000" stroke-width="1.2"/>
<rect x="73.7" y="59.4" width="5.6" height="5.6" fill="#000"/>
<text x="94.0" y="65.3" font-size="9.5">CMS</text>
<line x1="64" y1="75.2" x2="88.5" y2="75.2" stroke="#b5651d" stroke-width="1" stroke-dasharray="2.8,1.3"/>
<circle cx="76.5" cy="75.2" r="2.25" fill="#fff" stroke="#b5651d" stroke-width="1.35"/>
<text x="94.0" y="78.3" font-size="9.5">Herwig++ 2.7.1 default</text>
<line x1="64" y1="88.2" x2="88.5" y2="88.2" stroke="#349a1c" stroke-width="1" stroke-dasharray="2.7,1.4"/>
<rect x="74.1" y="85.8" width="4.8" height="4.8" fill="#fff" stroke="#349a1c" stroke-width="1.35"/>
<text x="94.0" y="91.3" font-size="9.5">Herwig 7.2.1 default</text>
<line x1="64" y1="101.3" x2="88.5" y2="101.3" stroke="#0000ff" stroke-width="1"/>
<path d="M76.5 98.1 L79.6 103.8 L73.4 103.8Z" fill="#0000ff"/>
<text x="94.0" y="104.4" font-size="9.5">Pythia 8.315 default</text>
<line x1="64" y1="114.3" x2="88.5" y2="114.3" stroke="#1699c4" stroke-width="1" stroke-dasharray="4,1.7,1,1.7"/>
<path d="M76.5 117.2 L79.5 111.9 L73.5 111.9Z" fill="#1699c4"/>
<text x="94.0" y="117.4" font-size="9.5">Pythia 8.315 vincia-default</text>
<line x1="64" y1="127.3" x2="88.5" y2="127.3" stroke="#ff0000" stroke-width="1" stroke-dasharray="1,1.1"/>
<line x1="68" y1="127.3" x2="75" y2="127.3" stroke="#ff0000" stroke-width="0.8" stroke-opacity="0.6"/>
<path d="M76.5 124.1 L78.5 127.3 L76.5 130.5 L74.5 127.3Z" fill="#ff0000"/>
<text x="94.0" y="130.4" font-size="9.5">Sherpa 2.2.9 default</text>
<text x="23.4" y="279.2" font-size="11.5" textLength="11.4" lengthAdjust="spacingAndGlyphs">10</text><text x="35.0" y="274.5" font-size="8.6">6</text>
<text x="23.4" y="174.85" font-size="11.5" textLength="11.4" lengthAdjust="spacingAndGlyphs">10</text><text x="35.0" y="170.15" font-size="8.6">7</text>
<text x="23.4" y="70.5" font-size="11.5" textLength="11.4" lengthAdjust="spacingAndGlyphs">10</text><text x="35.0" y="65.8" font-size="8.6">8</text>
<text x="38.6" y="341.11" font-size="11.5" text-anchor="end">2</text>
<text x="38.6" y="401.8" font-size="11.5" text-anchor="end">1</text>
<text x="38.6" y="462.49" font-size="11.5" text-anchor="end">0.5</text>
<text x="373.6" y="340.7" font-size="12">2</text>
<text x="373.6" y="402.7" font-size="11.5">1</text>
<text x="373.7" y="462.4" font-size="12" textLength="16.2" lengthAdjust="spacingAndGlyphs">0.5</text>
<text x="51.0" y="488.8" font-size="11.7" text-anchor="middle">0</text>
<text x="208.4" y="488.9" font-size="12" text-anchor="middle" textLength="15.7" lengthAdjust="spacingAndGlyphs">0.5</text>
<text x="366.3" y="488.8" font-size="11.7" text-anchor="middle">1</text>
<text x="295.5" y="498.5" font-size="12">&#916;{#rm p}</text>
<text x="343.6" y="506.6" font-size="8.4">#T,Soft</text>
<g transform="translate(13.0,136.2) rotate(-90)"><text x="0" y="0" font-size="12">d&#963;/d&#916;{#rm p}<tspan font-size="8.3" dy="6.6">#T,Soft</tspan><tspan dy="-6.6"> [pb]</tspan></text></g>
<g transform="translate(18.7,424.1) rotate(-90)"><text x="0" y="0" font-size="9.2">Ratio to CMS</text></g>
<g transform="translate(380.2,128.9) rotate(-90)"><text x="0" y="0" font-size="9.7" fill="#7a7a7a" textLength="108.6" lengthAdjust="spacingAndGlyphs">Rivet 4.1.0, &#8805; 100k events</text></g>
<g transform="translate(380.6,313.6) rotate(-90)"><text x="0" y="0" font-size="9.4" fill="#7a7a7a" textLength="142.4" lengthAdjust="spacingAndGlyphs">mcplots.cern.ch [arXiv:1306.3436]</text></g>
<text x="166.8" y="301.9" font-size="8.6" fill="#a3a3a3" textLength="82.8" lengthAdjust="spacingAndGlyphs">(CMS_2021_I1932460)</text>
</svg></body></html>
